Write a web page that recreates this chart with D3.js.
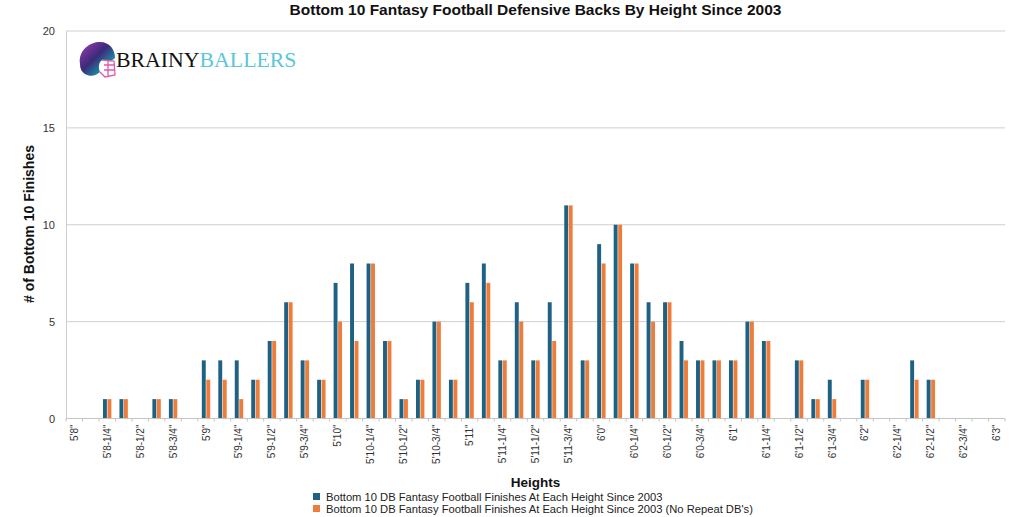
<!DOCTYPE html>
<html>
<head>
<meta charset="utf-8">
<script src="https://cdn.jsdelivr.net/npm/d3@7"></script>
<style>
  html, body { margin: 0; padding: 0; background: #fff; }
  svg { display: block; font-family: "Liberation Sans", Arial, Helvetica, sans-serif; }
</style>
</head>
<body>
<svg id="chart" width="1024" height="517"></svg>
<script>
// ---- data ----
const categories = [
  "5'8\"", "5'8-1/8\"", "5'8-1/4\"", "5'8-3/8\"", "5'8-1/2\"", "5'8-5/8\"", "5'8-3/4\"", "5'8-7/8\"",
  "5'9\"", "5'9-1/8\"", "5'9-1/4\"", "5'9-3/8\"", "5'9-1/2\"", "5'9-5/8\"", "5'9-3/4\"", "5'9-7/8\"",
  "5'10\"", "5'10-1/8\"", "5'10-1/4\"", "5'10-3/8\"", "5'10-1/2\"", "5'10-5/8\"", "5'10-3/4\"", "5'10-7/8\"",
  "5'11\"", "5'11-1/8\"", "5'11-1/4\"", "5'11-3/8\"", "5'11-1/2\"", "5'11-5/8\"", "5'11-3/4\"", "5'11-7/8\"",
  "6'0\"", "6'0-1/8\"", "6'0-1/4\"", "6'0-3/8\"", "6'0-1/2\"", "6'0-5/8\"", "6'0-3/4\"", "6'0-7/8\"",
  "6'1\"", "6'1-1/8\"", "6'1-1/4\"", "6'1-3/8\"", "6'1-1/2\"", "6'1-5/8\"", "6'1-3/4\"", "6'1-7/8\"",
  "6'2\"", "6'2-1/8\"", "6'2-1/4\"", "6'2-3/8\"", "6'2-1/2\"", "6'2-5/8\"", "6'2-3/4\"", "6'2-7/8\"",
  "6'3\""
];
const tickLabels = [
  "5'8\"", "5'8-1/4\"", "5'8-1/2\"", "5'8-3/4\"", "5'9\"", "5'9-1/4\"", "5'9-1/2\"", "5'9-3/4\"",
  "5'10\"", "5'10-1/4\"", "5'10-1/2\"", "5'10-3/4\"", "5'11\"", "5'11-1/4\"", "5'11-1/2\"", "5'11-3/4\"",
  "6'0\"", "6'0-1/4\"", "6'0-1/2\"", "6'0-3/4\"", "6'1\"", "6'1-1/4\"", "6'1-1/2\"", "6'1-3/4\"",
  "6'2\"", "6'2-1/4\"", "6'2-1/2\"", "6'2-3/4\"", "6'3\""
];
const finishesAll = [
  0, 0, 1, 1, 0, 1, 1, 0,
  3, 3, 3, 2, 4, 6, 3, 2,
  7, 8, 8, 4, 1, 2, 5, 2,
  7, 8, 3, 6, 3, 6, 11, 3,
  9, 10, 8, 6, 6, 4, 3, 3,
  3, 5, 4, 0, 3, 1, 2, 0,
  2, 0, 0, 3, 2, 0, 0, 0,
  0
];
const finishesNoRepeat = [
  0, 0, 1, 1, 0, 1, 1, 0,
  2, 2, 1, 2, 4, 6, 3, 2,
  5, 4, 8, 4, 1, 2, 5, 2,
  6, 7, 3, 5, 3, 4, 11, 3,
  8, 10, 8, 5, 6, 3, 3, 3,
  3, 5, 4, 0, 3, 1, 1, 0,
  2, 0, 0, 2, 2, 0, 0, 0,
  0
];
const seriesNames = [
  "Bottom 10 DB Fantasy Football Finishes At Each Height Since 2003",
  "Bottom 10 DB Fantasy Football Finishes At Each Height Since 2003 (No Repeat DB's)"
];
const yTicks = [0, 5, 10, 15, 20];
const colors = ["#1e6183", "#ee7d3b"];

// ---- layout ----
const svg = d3.select("#chart");
const L = 66, R = 1005, T = 31, B = 418.5;

const x = d3.scaleBand().domain(categories).range([L, R]).padding(0);
const bw = x.bandwidth();
const xs = d3.scaleBand().domain([0, 1]).range([bw * 0.245, bw * 0.755]).paddingInner(0.13);
const y = d3.scaleLinear().domain([0, 20]).range([B, T]);

// grid lines
svg.append("g").selectAll("line").data(yTicks.filter(d => d > 0)).join("line")
  .attr("x1", L).attr("x2", R)
  .attr("y1", d => y(d)).attr("y2", d => y(d))
  .attr("stroke", "#cfcfcf").attr("stroke-width", 1);

// left axis line
svg.append("line").attr("x1", L + 0.5).attr("x2", L + 0.5).attr("y1", T).attr("y2", B)
  .attr("stroke", "#cfcfcf");

// y axis labels
const yAxis = d3.axisLeft(y).tickValues(yTicks).tickSize(0).tickPadding(11);
const gy = svg.append("g").attr("transform", `translate(${L},0)`).call(yAxis);
gy.select(".domain").remove();
gy.selectAll("text").attr("font-size", 11).attr("fill", "#333")
  .attr("font-family", "'Liberation Sans', Arial, sans-serif");

// bars
const rows = categories.map((c, i) => ({ c, v: [finishesAll[i], finishesNoRepeat[i]] }));
const groups = svg.append("g").selectAll("g").data(rows).join("g")
  .attr("transform", d => `translate(${x(d.c)},0)`);
groups.selectAll("rect").data(d => d.v.map((v, k) => ({ v, k }))).join("rect")
  .filter(d => d.v > 0)
  .attr("x", d => xs(d.k))
  .attr("width", xs.bandwidth())
  .attr("y", d => y(d.v))
  .attr("height", d => y(0) - y(d.v))
  .attr("fill", d => colors[d.k]);

// x axis baseline and boundary ticks
svg.append("line").attr("x1", L).attr("x2", R).attr("y1", B).attr("y2", B)
  .attr("stroke", "#c4c4c4");
const bounds = categories.map(c => x(c)).concat([R]);
svg.append("g").selectAll("line").data(bounds).join("line")
  .attr("x1", d => d).attr("x2", d => d)
  .attr("y1", B).attr("y2", B + 3)
  .attr("stroke", "#c4c4c4");

// x axis labels
const xAxis = d3.axisBottom(x).tickValues(tickLabels).tickSize(0);
const gx = svg.append("g").attr("transform", `translate(0,${B})`).call(xAxis);
gx.select(".domain").remove();
gx.selectAll("text")
  .attr("font-size", 10).attr("fill", "#333")
  .attr("font-family", "'Liberation Sans', Arial, sans-serif")
  .attr("transform", "rotate(-90)")
  .attr("text-anchor", "end")
  .attr("x", -6).attr("y", 0).attr("dy", "0.35em");

// title
svg.append("text").attr("x", (L + R) / 2).attr("y", 15)
  .attr("text-anchor", "middle").attr("font-weight", "bold").attr("font-size", 15.5)
  .attr("fill", "#111").text("Bottom 10 Fantasy Football Defensive Backs By Height Since 2003");

// y title
svg.append("text").attr("transform", "translate(34,224) rotate(-90)")
  .attr("text-anchor", "middle").attr("font-weight", "bold").attr("font-size", 14)
  .attr("fill", "#111").text("# of Bottom 10 Finishes");

// x title
svg.append("text").attr("x", (L + R) / 2).attr("y", 487)
  .attr("text-anchor", "middle").attr("font-weight", "bold").attr("font-size", 13.5)
  .attr("fill", "#111").text("Heights");

// legend
const lg = svg.append("g").selectAll("g").data(seriesNames).join("g")
  .attr("transform", (d, i) => `translate(313,${497 + i * 12})`);
lg.append("rect").attr("x", 0).attr("y", -4).attr("width", 7).attr("height", 7)
  .attr("fill", (d, i) => colors[i]);
lg.append("text").attr("x", 13).attr("y", 0).attr("dy", "0.35em")
  .attr("font-size", 11.2).attr("fill", "#222").text(d => d);

// logo
const logo = svg.append("g").attr("transform", "translate(78,42)");
const defs = svg.append("defs");
const grad = defs.append("linearGradient").attr("id", "helm").attr("x1", "0").attr("y1", "0").attr("x2", "1").attr("y2", "1");
grad.append("stop").attr("offset", "0").attr("stop-color", "#a13fb8");
grad.append("stop").attr("offset", "0.45").attr("stop-color", "#3c2a78");
grad.append("stop").attr("offset", "0.75").attr("stop-color", "#1b8fa8");
grad.append("stop").attr("offset", "1").attr("stop-color", "#111");
logo.append("path")
  .attr("d", "M2,22 C0,8 12,0 22,0 C32,0 37,8 37,16 L33,19 L24,18 C21,20 20,25 22,30 C18,34 12,35 7,32 C4,30 2,27 2,22 Z")
  .attr("fill", "url(#helm)");
logo.append("path")
  .attr("d", "M24,18 L36,19 L37,33 L27,35 L22,30 M26,23 L37,23 M26,28 L37,28 M30,19 L30,34")
  .attr("fill", "none").attr("stroke", "#e05aa8").attr("stroke-width", 1.3);
const lt = svg.append("text").attr("x", 116).attr("y", 67)
  .attr("font-family", "'Liberation Serif', 'Times New Roman', serif").attr("font-size", 21.8);
lt.append("tspan").attr("fill", "#111").text("BRAINY");
lt.append("tspan").attr("fill", "#5cc6d9").text("BALLERS");
</script>
</body>
</html>
